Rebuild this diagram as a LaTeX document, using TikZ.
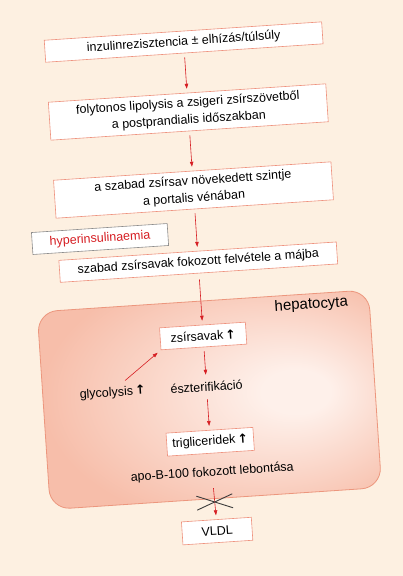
\documentclass[tikz,border=0pt]{standalone}
\usepackage{fontspec}
\setmainfont{Liberation Sans}
\newfontfamily\arrowfont{DejaVu Sans}
\usetikzlibrary{arrows.meta}
\definecolor{bgpeach}{RGB}{253,240,225}
\definecolor{boxedge}{RGB}{238,145,125}
\definecolor{arrred}{RGB}{214,30,35}
\definecolor{hepin}{RGB}{254,240,234}
\definecolor{hepout}{RGB}{247,190,170}
\definecolor{hepedge}{RGB}{236,150,125}
\definecolor{crossgray}{RGB}{60,60,60}
\pgfdeclareradialshading{hepshade}{\pgfpoint{14bp}{2bp}}{color(0bp)=(hepin); color(5bp)=(hepin); color(30bp)=(hepout); color(50bp)=(hepout)}
\newcommand{\up}{\,{\arrowfont\bfseries ↑}}

\begin{document}
\begin{tikzpicture}[x=1pt, y=1pt,
  fbox/.style={draw=boxedge, fill=white, line width=0.6pt, minimum width=278pt, minimum height=22pt, inner sep=2pt, align=center, font=\fontsize{12.5}{17}\selectfont},
  sbox/.style={fbox, minimum width=86pt, minimum height=23pt},
  plain/.style={font=\fontsize{12.5}{17}\selectfont},
  arr/.style={draw=arrred, line width=0.6pt, -{Triangle[length=5pt,width=3.5pt]}, shorten <=4pt, shorten >=4pt}
]
  \fill[bgpeach] (0,0) rectangle (403,576);
  \begin{scope}[rotate around={3.8:(201.5,288)}, transform shape]
    \node[draw=hepedge, line width=0.8pt, rounded corners=20pt, shade, shading=hepshade, minimum width=332pt, minimum height=198pt] (hep) at (202,176) {};
    \node[font=\fontsize{15}{18}\selectfont] (heplabel) at (310,264) {hepatocyta};

    \node[fbox] (insul) at (200,534.6) {inzulinrezisztencia ± elhízás/túlsúly};
    \node[fbox, minimum height=38pt] (lipo) at (200,464.5) {folytonos lipolysis a zsigeri zsírszövetből\\a postprandialis időszakban};
    \node[fbox, minimum height=38pt] (portal) at (200,386.3) {a szabad zsírsav növekedett szintje\\a portalis vénában};
    \node[fbox, draw=gray!90, minimum width=136pt, text=arrred] (hyper) at (103.5,343.6) {hyperinsulinaemia};
    \node[fbox] (uptake) at (200,314) {szabad zsírsavak fokozott felvétele a májba};

    \node[sbox, minimum height=22pt] (fa) at (200,240) {zsírsavak\up};
    \node[plain] (glyc) at (106,189) {glycolysis\up};
    \node[plain] (est) at (200,189) {észterifikáció};
    \node[sbox, minimum width=87pt] (tg) at (200,134) {trigliceridek\up};
    \node[plain] (apo) at (200,103) {apo-B-100 fokozott lebontása};
    \node[sbox, minimum width=70pt] (vldl) at (201,44.4) {VLDL};
    \coordinate (cut) at (200.5,73.6);

    \draw[arr] (insul.south) -- (lipo.north);
    \draw[arr] (lipo.south) -- (portal.north);
    \draw[arr] (portal.south) -- (uptake.north);
    \draw[arr, shorten <=6pt] (uptake.south) -- (fa.north);
    \draw[arr] (fa.south) -- (est.north);
    \draw[arr] ([xshift=10pt]glyc.north) -- (fa.south west);
    \draw[arr] (est.south) -- (tg.north);
    \draw[arr, shorten <=6pt] (apo.south) -- (vldl.north);
    \draw[crossgray, line width=0.9pt, shift={(cut)}] (-18,-7) -- (18,7) (-18,7) -- (18,-7);
  \end{scope}
\end{tikzpicture}
\end{document}
